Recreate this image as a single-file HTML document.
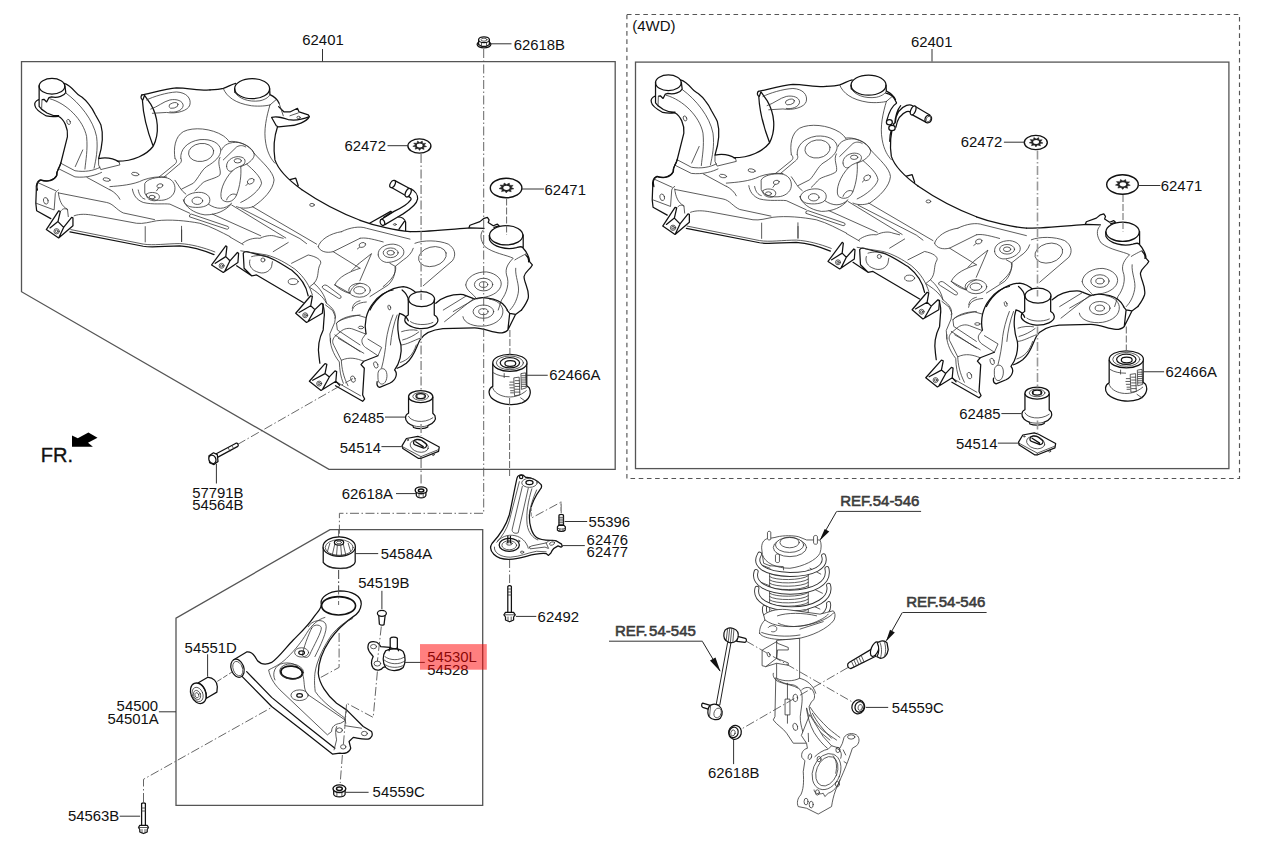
<!DOCTYPE html>
<html>
<head>
<meta charset="utf-8">
<title>Front Suspension Crossmember</title>
<style>
html,body{margin:0;padding:0;background:#fff;}
body{width:1261px;height:845px;overflow:hidden;font-family:"Liberation Sans",sans-serif;}
svg{display:block;}
text{font-family:"Liberation Sans",sans-serif;font-size:14.9px;fill:#111;}
.b{font-weight:normal;fill:#3c3c3c;stroke:#3c3c3c;stroke-width:0.6;font-size:15px;}
.k{fill:none;stroke:#111;stroke-width:1.25;stroke-linecap:round;stroke-linejoin:round;vector-effect:non-scaling-stroke;}
.t{fill:none;stroke:#333;stroke-width:0.8;stroke-linecap:round;stroke-linejoin:round;vector-effect:non-scaling-stroke;}
.w{fill:#fff;}
.box{fill:none;stroke:#555;stroke-width:1.3;}
.ld{fill:none;stroke:#333;stroke-width:1;}
.dd{fill:none;stroke:#444;stroke-width:0.9;stroke-dasharray:9 2.5 1.5 2.5;}
.dash{fill:none;stroke:#555;stroke-width:1.15;stroke-dasharray:4.6 3.6;}
</style>
</head>
<body>
<svg width="1261" height="845" viewBox="0 0 1261 845">
<rect width="1261" height="845" fill="#fff"/>

<!-- BOXES -->
<path class="box" d="M21.5 291.7V61.6H615.2V469.4H329Z"/>
<path class="box" d="M176 805.3V618.2L330 529.6H482.7V805.3Z"/>
<rect class="dash" x="626.9" y="14.5" width="612.6" height="464"/>
<rect class="box" x="635.5" y="62.1" width="593.4" height="406.5"/>

<!-- HIGHLIGHT -->


<!-- LABELS -->
<g id="labels">
<text x="302.3" y="44.7">62401</text>
<text x="513.7" y="49.9">62618B</text>
<text x="344.5" y="150.7">62472</text>
<text x="544.5" y="195">62471</text>
<text x="549.2" y="380.4">62466A</text>
<text x="342.9" y="422.7">62485</text>
<text x="339.7" y="452.9">54514</text>
<text x="341.7" y="499.1">62618A</text>
<text x="192.2" y="497.5">57791B</text>
<text x="192.2" y="510">54564B</text>
<text x="40.8" y="462.3" style="font-size:20px;stroke:#111;stroke-width:0.35">FR.</text>
<text x="380.8" y="558.8">54584A</text>
<text x="358.2" y="588.4">54519B</text>
<text x="184.6" y="652.9">54551D</text>
<text x="427.2" y="661.9" >54530L</text>
<text x="427.2" y="675.4">54528</text>
<text x="116.6" y="711.4">54500</text>
<text x="107.4" y="724.3">54501A</text>
<text x="372.6" y="796.8">54559C</text>
<text x="67.9" y="820.8">54563B</text>
<text x="588.6" y="526.9">55396</text>
<text x="586.6" y="544.8">62476</text>
<text x="586.6" y="557.3">62477</text>
<text x="537.6" y="621.9">62492</text>
<text x="632.2" y="31.4" style="font-size:15px">(4WD)</text>
<text x="911" y="46.5">62401</text>
<text x="960.8" y="146.7">62472</text>
<text x="1160.8" y="191">62471</text>
<text x="1165.5" y="377.4">62466A</text>
<text x="959.2" y="418.7">62485</text>
<text x="956" y="448.9">54514</text>
<text class="b" x="840.2" y="505.8">REF.54-546</text>
<text class="b" x="906.2" y="607.1">REF.54-546</text>
<text class="b" x="614.9" y="635.7">REF.<tspan dx="1.7">54-545</tspan></text>
<text x="891.7" y="713.2">54559C</text>
<text x="708" y="778.3">62618B</text>
</g>

<!-- LEADERS -->
<g id="leaders" class="ld">
<path d="M322.5 49V61.5"/>
<path d="M932 49V61.5"/>
<path d="M837.2 511.4H921.1"/>
<path d="M902.7 612.5H986.6"/>
<path d="M609 641.2H702.4"/>
</g>

<defs><g id="sf">
<g transform="translate(0,50) scale(0.16653)">
<ellipse class="k" cx="312" cy="218" rx="77" ry="47"/>
<path class="k" d="M235,214 L235,339 L249,355 L282,378 C310,392 335,396 352,394 M235,296 C215,305 205,320 210,335 C212,350 230,370 278,396 C300,400 330,400 350,398 M254,298 L264,296 L280,312 L294,286 L309,282 M390,215 L395,255 C385,275 350,290 309,282"/>
<path class="t" d="M252,300 L250,351"/>
<path class="k" d="M385,200 C405,205 430,225 454,253 C470,272 480,275 493,284 C510,298 522,310 532,323 C550,345 562,365 571,386 C590,420 600,435 606,450 C620,500 618,570 592,652 C630,645 680,650 715,672"/>
<path class="t" d="M715,672 L720,690 L605,718 L592,690 L592,652"/>
<path class="k" d="M705,668 C800,668 880,630 920,578 C960,500 950,400 905,325 L868,272 M852,270 C843,280 846,295 858,300 L868,272 M855,300 C860,400 890,500 920,578"/>
<path class="k" d="M852,270 C920,255 1000,232 1060,228 C1130,228 1200,245 1261,240"/>
<path class="k" d="M350,398 C385,415 410,470 405,520 L365,680 C355,715 335,730 340,755 C325,785 285,795 245,780 C225,790 218,815 225,841"/>
<path class="t" d="M395,258 C480,320 560,420 580,520 C590,600 575,660 565,710 M300,293 C400,320 500,420 520,520 C528,600 515,660 510,715 M497,600 L452,700"/>
<ellipse class="t" cx="412" cy="432" rx="10" ry="16" transform="rotate(-20 412 432)"/>
<path class="t" d="M365,680 L450,725 C510,735 560,725 600,705 M350,712 L450,762 C520,770 580,750 610,735 M522,765 L660,840"/>
<ellipse class="t" cx="640" cy="778" rx="22" ry="10" transform="rotate(10 640 778)"/>
<ellipse class="t" cx="812" cy="745" rx="22" ry="10" transform="rotate(10 812 745)"/>
<path class="t" d="M880,300 C920,280 1000,255 1060,252 C1120,255 1150,290 1140,330 C1130,365 1060,385 1000,375 L915,380 M905,355 C950,340 980,310 1020,300 C1060,292 1100,305 1100,335 C1095,365 1050,378 1020,372"/>
<ellipse class="t" cx="1042" cy="333" rx="28" ry="16" transform="rotate(-15 1042 333)"/>
</g>

<g transform="translate(210,50) scale(0.16653)">
<ellipse class="k" cx="253" cy="232" rx="105" ry="60"/>
<path class="k" d="M148,232 L150,255 M358,232 L360,268 M0,240 C30,238 60,235 80,230 C110,220 130,205 155,200 M360,268 C385,280 405,295 415,320"/>
<path class="k" d="M405,462 C385,520 380,590 390,660 C410,720 470,780 550,838 M480,778 L515,770 L530,815"/>
<path class="t" d="M80,232 C100,280 150,320 250,335 C300,340 340,335 360,330 M150,255 C170,290 230,315 300,305 C340,295 355,280 360,268 M360,330 C340,400 320,480 335,560 C345,620 370,660 390,680 M360,330 L395,300"/>
</g>

<g transform="translate(20,150) scale(0.16653)">
<path class="k" d="M245,78 C240,105 218,120 222,150 C210,175 170,195 120,180 C100,190 95,215 98,240 L95,320 L100,365 L185,412"/>
<path class="k" d="M158,478 L232,365 L242,368 L228,430 L262,465 L310,405 L318,408 L318,455 L232,528 Z M180,468 L228,430 M262,465 L235,522"/>
<circle class="t" cx="220" cy="488" r="16"/><circle class="t" cx="220" cy="488" r="8"/>
<path class="k" d="M300,492 L740,578 C800,588 880,575 960,575 C1030,580 1100,600 1165,628"/>
<path class="t" d="M540,238 C570,255 590,275 600,296 M105,195 L215,245 M98,320 L205,360 L212,262 C215,250 222,245 230,240 M230,255 C235,300 250,340 285,355 L290,400 M250,362 C255,350 275,350 285,358 M232,258 L520,315 C560,322 580,360 620,378 L808,418 M325,395 C360,382 400,385 440,392 L700,440 C740,445 780,432 820,425 C900,415 1000,425 1080,440 C1150,460 1210,495 1261,520 M752,460 V552 M970,458 V550 M305,478 L740,565 C800,575 880,562 960,562 C1030,566 1100,585 1170,612"/>
<ellipse class="t" cx="155" cy="305" rx="14" ry="20" transform="rotate(-15 155 305)"/>
<path class="t" d="M750,200 C760,175 820,160 870,165 C910,170 935,200 930,240 C925,275 890,300 850,302 C800,305 760,290 750,260 Z M760,265 C770,255 800,250 825,262 C845,275 840,300 810,305 C780,305 755,290 760,265 M540,220 C600,215 680,210 740,180 C780,165 830,158 880,162 M675,235 C680,270 700,300 740,315 C800,330 860,320 900,325 L1020,380 M710,240 C715,270 730,290 750,295 M832,228 L820,245"/>
<ellipse class="t" cx="840" cy="215" rx="18" ry="12" transform="rotate(-15 840 215)"/>
<ellipse class="t" cx="793" cy="283" rx="18" ry="11"/>
<ellipse class="t" cx="1065" cy="305" rx="32" ry="22"/>
<path class="t" d="M985,300 C990,270 1040,250 1090,255 C1130,262 1150,290 1135,320 C1120,345 1060,350 1020,340 C995,330 983,315 985,300 M1020,390 L1030,385 L1250,460 C1258,468 1250,478 1240,475 L1020,402 Z"/>
</g>

<g transform="translate(150,100) scale(0.16653)">
<path class="t" d="M150,350 C140,290 150,220 200,190 C260,160 370,170 440,215 C460,230 470,240 475,250 M150,350 C165,365 160,375 150,385 L55,462 M185,350 C180,300 220,250 300,238 C370,232 420,260 425,300 C425,340 390,370 340,400 C310,420 290,470 260,500 L190,535 M185,350 C195,365 185,380 170,390 L85,462 M420,345 C400,380 430,420 420,450 C400,470 340,480 320,495 C300,510 290,530 270,545"/>
<ellipse class="t" cx="307" cy="315" rx="76" ry="54" transform="rotate(-8 307 315)"/>
<path class="t" d="M430,300 C440,270 480,250 530,255 C570,262 610,285 625,320 C630,345 610,365 580,385 L545,400 M475,250 C520,240 600,270 625,320 M440,360 L520,282 C540,270 560,272 575,282"/>
<path class="t" d="M460,400 C455,370 490,340 530,340 C565,342 580,360 565,385 C550,400 520,400 495,425 C475,435 462,420 460,400 M545,400 C550,450 540,520 520,570 C500,620 450,620 430,595 C415,560 440,480 495,425 M520,570 C500,555 470,570 460,600"/>
<ellipse class="t" cx="527" cy="365" rx="22" ry="13"/>
<path class="t" d="M625,320 C680,380 740,430 745,480 C740,540 680,600 620,640 C580,655 540,650 520,640 M580,385 C620,420 665,460 670,500 C660,540 600,590 545,615 M590,500 L576,514"/>
<ellipse class="t" cx="605" cy="488" rx="22" ry="15" transform="rotate(-30 605 488)"/>
<path class="t" d="M150,482 C175,515 185,545 215,565 M350,625 C400,660 450,660 490,620 M200,600 C210,640 260,680 330,690 C400,690 450,665 485,628"/>
<path class="k" d="M910,538 C1000,600 1120,670 1261,722"/>
<ellipse class="t" cx="973" cy="630" rx="14" ry="9"/>
</g>

<g transform="translate(150,230) scale(0.16653)">
<path class="k" d="M370,210 L455,95 L462,100 L455,160 L480,185 L525,135 L532,140 L528,195 L440,255 Z M392,200 L455,160 M480,185 L448,250"/>
<circle class="t" cx="430" cy="215" r="15"/><circle class="t" cx="430" cy="215" r="7"/>
<path class="k" d="M520,215 L610,275 L640,270 L920,435 M560,140 C565,130 580,128 600,135 L700,160 C740,170 800,210 850,240 C900,280 940,340 950,395 M560,140 L565,230 L610,275"/>
<path class="t" d="M545,125 L700,150 C760,165 820,200 870,235 C930,285 960,340 975,390"/>
<path class="k" d="M875,500 L965,395 L975,398 L965,455 L990,478 L1030,440 L1040,445 L1035,500 L940,555 Z M895,495 L965,455 M990,478 L950,548"/>
<circle class="t" cx="932" cy="512" r="15"/><circle class="t" cx="932" cy="512" r="7"/>
<path class="k" d="M1037,445 C1045,470 1050,500 1045,530 L1040,600 C1020,640 1005,700 1015,760 L1020,800"/>
<path class="t" d="M190,0 V70 M480,42 L560,88 M555,80 C580,60 620,45 660,50 C700,30 740,30 760,40 L800,50 M740,130 L830,75 M850,200 L950,150 C1000,160 1030,180 1025,200 C1000,240 1020,280 985,320 L960,340 M600,180 C590,210 610,240 640,250 C680,270 720,250 730,220 L735,190 M610,160 C640,150 690,150 720,165"/>
<circle class="t" cx="678" cy="180" r="12"/>
<ellipse class="t" cx="860" cy="310" rx="30" ry="18"/>
<path class="t" d="M1035,340 C1040,328 1055,328 1065,335 L1145,395 C1152,405 1145,415 1132,410 L1045,355 C1035,350 1033,345 1035,340 M1010,100 C1020,60 1080,20 1150,10 M1010,100 C1020,130 1060,140 1100,130 L1261,50 M1100,130 L1261,230 M1110,330 C1130,280 1200,250 1261,230 M1110,330 L1200,380 M1200,380 C1210,340 1240,325 1261,320 M1215,470 C1220,440 1240,430 1261,425 M1120,560 C1130,540 1200,520 1261,510 M1120,560 L1125,600 L1261,690 M1110,630 L1261,730 M960,345 C1000,370 1040,400 1060,440 C1100,470 1120,500 1110,530 M985,320 C1020,350 1050,390 1060,440"/>
<path class="t" d="M1054,450 L1097,484 L1114,522 L1109,556 L1080,624 L1084,676"/>
</g>

<g transform="translate(200,180) scale(0.16653)">
<path class="t" d="M75,205 L365,335 M190,150 L515,348 M250,172 L600,352 L640,382 M315,160 L700,385"/>
<path class="t" d="M850,310 C900,285 960,275 1000,290 L1261,355 M961,350 C990,345 1020,350 1100,372 M950,505 L1030,442 L960,605 M960,402 L945,414"/>
<ellipse class="t" cx="975" cy="390" rx="20" ry="14" transform="rotate(-20 975 390)"/>
<ellipse class="t" cx="1145" cy="437" rx="22" ry="14"/><ellipse class="t" cx="1145" cy="437" rx="45" ry="29"/>
<path class="t" d="M1070,450 C1065,410 1110,385 1160,385 C1210,390 1235,420 1220,450 C1200,480 1160,495 1120,495 C1090,490 1072,470 1070,450 M1140,500 L1175,520 C1180,560 1150,600 1100,640"/>
<ellipse class="t" cx="958" cy="662" rx="35" ry="22"/><ellipse class="t" cx="958" cy="662" rx="65" ry="42"/>
<path class="t" d="M810,630 C830,650 860,670 895,680 M910,545 L950,505"/>
<path class="k" d="M961,242 C1050,275 1180,305 1261,310"/>
</g>

<g transform="translate(360,170) scale(0.16653)">
<path class="k" d="M301,370 C400,372 560,355 660,348 L745,350"/>
<ellipse class="k" cx="878" cy="392" rx="100" ry="58"/>
<path class="k" d="M980,390 V470 M776,392 L778,420 C800,462 880,482 940,466 C960,460 972,455 980,470 C1000,490 1020,530 1018,550 L1035,570 C1020,600 990,610 985,640 C985,680 1020,720 1010,770 C1000,800 985,820 970,841 M995,510 C1010,525 1015,540 1012,552"/>
<path class="k" d="M655,345 L660,332 L720,310 L745,290 L765,285 L775,300 L770,315 L800,335 L825,325 L835,335 L805,345"/>
<path class="t" d="M740,360 C720,380 720,420 750,460 C800,500 880,510 920,530 C890,560 870,590 880,630 C900,680 880,740 850,780 L830,841 M930,540 C960,520 990,510 1000,500 M935,590 C930,640 960,690 950,740 C940,790 920,820 900,841"/>
<ellipse class="t" cx="742" cy="688" rx="25" ry="17"/><ellipse class="t" cx="742" cy="688" rx="55" ry="38"/>
<path class="t" d="M635,690 C640,640 700,610 760,612 C820,620 860,660 845,700 C830,740 780,760 740,765 L700,775 C680,740 640,730 635,690"/>
<ellipse class="t" cx="435" cy="520" rx="85" ry="58" transform="rotate(-15 435 520)"/>
<path class="t" d="M330,440 C380,420 470,420 530,445 C570,470 580,510 555,545 L380,695 M320,470 C310,500 290,520 260,540 L210,580 C215,620 200,660 170,690 L60,760"/>
<path class="k" d="M60,841 C100,760 180,705 260,700 C300,705 320,720 340,740 M455,800 C500,760 560,745 620,748 L690,775 C720,760 760,765 800,775 C840,785 870,810 885,841"/>
<path class="t" d="M690,775 L560,850"/>
<ellipse class="k w" cx="370" cy="776" rx="78" ry="45"/>
<path class="t" d="M640,755 L500,841"/>
</g>

<g transform="translate(299.7,290) scale(0.16653)">
<path class="k" d="M652,58 V150 M808,58 V150 M632,175 C625,195 660,225 720,232 C780,235 830,210 830,180 C828,165 818,155 808,150 M652,150 C640,155 632,165 632,175"/>
<path class="k" d="M398,262 C385,200 400,130 440,80 C470,35 520,5 560,0 M615,0 C640,20 650,40 652,60"/>
<path class="k" d="M600,140 C580,200 590,280 608,330 C615,380 600,440 570,480 C590,500 580,540 540,560 L480,585 C465,580 462,565 465,550 M600,140 C625,148 645,165 652,185"/>
<path class="t" d="M470,500 C472,475 495,465 512,478 C530,495 528,545 505,562 C485,572 470,555 470,530 Z"/>
<path class="t" d="M398,262 L378,290 C368,305 375,330 395,345 L470,395 L492,345 L410,295"/>
<path class="k" d="M470,395 L385,428 L368,448 L388,470 L378,630 L390,655 L378,668 L215,575"/>
<path class="t" d="M365,635 L225,555 M215,275 L245,250 C265,232 295,225 320,235 L398,265 M215,275 C198,290 192,312 205,332 L250,422 C300,400 340,410 385,428 M232,290 L385,380 M185,290 C178,320 200,385 238,432 C240,480 245,520 262,560 M250,422 C252,470 262,520 290,575"/>
<path class="k" d="M58,548 L152,442 L163,446 L152,502 L178,522 L212,486 L222,490 L217,548 L128,603 Z M78,542 L152,502 M178,522 L138,595 M217,548 L240,572"/>
<circle class="t" cx="117" cy="562" r="15"/><circle class="t" cx="117" cy="562" r="7"/>
<path class="k" d="M1245,121 L1261,140 L1250,240 M1332,120 L1296,147 L1261,140 M1296,147 L1250,240 M722,300 C745,262 800,238 860,232 L1050,228 C1100,228 1150,252 1200,258 C1225,258 1240,250 1250,240 M722,300 C700,340 690,400 640,440 C620,455 600,465 585,470"/>
<path class="t" d="M1045,52 L870,190 M700,330 C680,390 650,420 605,435 M612,250 C640,240 680,236 705,242 M618,300 C650,292 690,272 715,252 M608,330 C640,330 690,300 722,290 M560,150 C540,200 525,260 520,300 C515,360 505,420 492,468 M585,150 C565,200 550,270 545,330"/>
<ellipse class="t" cx="320" cy="535" rx="13" ry="20" transform="rotate(-20 320 535)"/>
<ellipse class="t" cx="457" cy="450" rx="12" ry="20" transform="rotate(-20 457 450)"/>
<ellipse class="t" cx="538" cy="105" rx="8" ry="15" transform="rotate(-15 538 105)"/>
<ellipse class="t" cx="368" cy="225" rx="16" ry="8"/>
<ellipse class="t" cx="1103" cy="130" rx="28" ry="18"/><ellipse class="t" cx="1103" cy="130" rx="62" ry="40"/>
<path class="t" d="M980,160 C985,200 1050,225 1120,215 C1180,205 1225,170 1220,120 C1215,85 1180,60 1140,55 M315,125 C320,95 350,75 400,72 M225,195 C250,170 300,152 350,152 L395,165 M665,190 C690,210 760,215 800,195"/>
</g>

<g transform="translate(385,345) scale(0.14274)">
<path class="k w" d="M165,365 V478 C140,488 135,520 160,545 C175,558 185,562 195,565 L200,578 C230,590 280,588 300,575 L300,565 C345,550 360,520 350,495 L335,478 V365 Z"/>
<ellipse class="k w" cx="250" cy="362" rx="85" ry="42"/>
<ellipse class="t" cx="250" cy="360" rx="55" ry="27"/><ellipse class="k" cx="250" cy="358" rx="33" ry="18"/>
<path class="t" d="M165,500 C180,535 270,555 335,510 M195,565 C230,575 270,575 300,565 M225,345 V372 M275,345 V372"/>
<path class="ld" d="M0,505 H140" style="vector-effect:non-scaling-stroke"/>
<path class="k w" d="M120,705 L150,655 L230,640 L260,650 L380,715 L375,745 L250,795 L235,795 L125,725 Z"/>
<path class="t" d="M125,725 L122,712 M250,795 L252,782 L375,733 M252,782 L122,712"/>
<ellipse class="t" cx="240" cy="708" rx="65" ry="42" transform="rotate(15 240 708)"/>
<path class="k" d="M200,680 C205,660 235,655 255,668 L290,695 C295,710 285,722 270,722 L225,705 C205,700 198,692 200,680 Z M215,678 L268,712"/>
<circle class="t" cx="338" cy="768" r="7"/><circle class="t" cx="160" cy="665" r="5"/>
<path class="ld" d="M-25,712 H118" style="vector-effect:non-scaling-stroke"/>
<path class="k w" d="M755,130 V290 C725,305 720,340 745,370 C790,415 890,430 960,405 C1010,385 1030,340 1010,300 L993,285 V130 Z"/>
<ellipse class="k w" cx="875" cy="125" rx="120" ry="60"/>
<ellipse class="t" cx="875" cy="125" rx="95" ry="48"/><ellipse class="k" cx="875" cy="125" rx="68" ry="36"/><ellipse class="k" cx="878" cy="130" rx="38" ry="20"/>
<path class="t" d="M755,300 C770,360 900,400 990,320 M760,195 C790,215 830,222 870,222 M835,200 V228 M950,370 L985,395"/>
<path class="t" d="M905,230 L940,225 L945,350 L910,355 Z M912,250 H940 M912,270 H942 M912,290 H942 M912,310 H944 M912,330 H944 M955,200 L985,195 L990,300 L958,310 Z M958,215 H986 M958,230 H986 M958,245 H987 M958,260 H987 M958,275 H988 M958,290 H988 M875,260 H900 M872,280 H900 M875,300 H900 M880,320 H900 M880,335 H900"/>
<path class="ld" d="M995,212 H1140" style="vector-effect:non-scaling-stroke"/>
</g>

<g>
<ellipse class="k w" cx="419.4" cy="146" rx="11.5" ry="7.1" style="stroke-width:1.4"/>
<polygon points="426.6,146.6 423.5,147.2 424.1,149.4 421.1,148.4 419.5,150.4 418.1,148.4 415.1,149.2 415.8,147.0 412.8,146.3 415.4,145.0 413.7,143.1 417.0,143.3 417.5,141.0 419.8,142.6 422.3,141.1 422.6,143.4 425.8,143.3 424.1,145.2" fill="#222" stroke="#222" stroke-width="0.5" stroke-linejoin="round"/>
<ellipse cx="419.7" cy="145.5" rx="2.9" ry="1.9" fill="#fff"/>
<path class="ld" d="M387.5 145.7H408"/>
<ellipse class="k w" cx="506.1" cy="188" rx="15.8" ry="9.75" style="stroke-width:1.4"/>
<polygon points="513.9,188.8 510.6,189.5 511.2,191.8 508.0,190.9 506.3,192.9 504.7,190.9 501.5,191.6 502.3,189.4 499.0,188.6 501.8,187.1 500.0,185.1 503.5,185.2 504.1,183.0 506.6,184.5 509.3,183.1 509.7,185.3 513.2,185.4 511.2,187.3" fill="#222" stroke="#222" stroke-width="0.5" stroke-linejoin="round"/>
<ellipse cx="506.5" cy="187.8" rx="3.2" ry="2.1" fill="#fff"/>
<path class="ld" d="M522 189H544"/>
<path d="M506.6 198.5V235" fill="none" stroke="#666" stroke-width="1" stroke-dasharray="7 2"/>
<path d="M509.9 330V357" fill="none" stroke="#666" stroke-width="1" stroke-dasharray="7 2"/>
</g>

</g></defs>
<use href="#sf"/>
<g transform="translate(370,165) scale(0.082843)">
<path class="k w" d="M295,185 L490,290 L440,375 L265,275 Z"/>
<ellipse class="k w" cx="273" cy="230" rx="28" ry="48" transform="rotate(28 273 230)"/>
<path class="k w" d="M490,285 C540,310 580,360 575,410 C565,470 480,540 400,590 L340,625 L180,720 L130,660 L290,560 C380,520 450,480 490,425 C500,410 500,395 470,385 Z"/>
<ellipse class="k w" cx="460" cy="335" rx="30" ry="55" transform="rotate(28 460 335)"/>
<ellipse class="k w" cx="150" cy="693" rx="26" ry="38" transform="rotate(-20 150 693)"/>
<path class="k" d="M0,700 L250,560 L265,570 L165,632 M340,625 C380,625 420,650 430,690 L430,790 M415,680 L350,775"/>
<ellipse class="t" cx="300" cy="718" rx="18" ry="10"/>
</g>
<g transform="translate(210,50) scale(0.16653)">
<path class="k" d="M412,340 L445,372 L480,372 L525,350 L535,372 L590,390 L597,400 C580,430 520,455 470,455 L412,462 L398,455 L370,405 C400,395 430,405 470,418 C510,425 560,415 597,400"/>
<ellipse class="t" cx="532" cy="405" rx="10" ry="7"/>
<path class="t" d="M415,320 L440,395 M480,395 L530,378"/>
</g>



<use href="#sf" x="616.4" y="-3.5"/>
<g transform="translate(840,70) scale(0.11895)">
<path class="k" d="M385,195 C420,200 455,225 475,275 M475,280 C440,300 410,360 392,430 M510,300 C485,330 465,400 460,450 M465,440 C470,380 500,320 560,298 C580,292 600,295 610,300 M470,480 C480,420 510,370 560,350 C575,345 585,348 595,355 M630,305 L755,378 M605,375 L725,440 M430,510 C420,540 418,570 418,600"/>
<ellipse class="k w" cx="415" cy="440" rx="25" ry="22"/><ellipse class="k w" cx="437" cy="487" rx="27" ry="22"/>
<ellipse class="k w" cx="615" cy="340" rx="20" ry="40" transform="rotate(25 615 340)"/>
<ellipse class="k w" cx="742" cy="412" rx="27" ry="33" transform="rotate(25 742 412)"/><ellipse class="t" cx="744" cy="413" rx="18" ry="24" transform="rotate(25 744 413)"/>
</g>



<g id="smallparts">
<!-- dash-dot lines -->
<path class="dd" d="M483.7 49V513.3H339.4V540" style="stroke:#555"/>
<path class="dd" d="M421.1 154V300 M421.1 330V391 M421.1 424V436 M421.1 459V486" style="stroke:#999;stroke-width:1.6"/>
<path class="dd" d="M1037.5 150.5V296.5 M1037.5 326.5V387.5 M1037.5 420.5V432.5" style="stroke:#999;stroke-width:1.6"/>
<path class="dd" d="M237.5 444.5L353 378.5" style="stroke:#444;stroke-width:0.8"/>
<path d="M509.6 398V476" fill="none" stroke="#666" stroke-width="1" stroke-dasharray="7 2"/>
<path class="dd" d="M509.6 559V583" style="stroke:#555"/>
<path class="dd" d="M561.2 513V502L531.5 518" style="stroke:#555"/>
<!-- 62618B nut -->
<g>
<ellipse class="k w" cx="484" cy="44.3" rx="6.9" ry="3.6"/>
<path class="k w" d="M478.6 39.7V44.5L481.5 46.3H486.5L489.4 44.5V39.7Z"/>
<path class="t" d="M481.5 42V46.3M486.5 42V46.3"/>
<ellipse class="k w" cx="484" cy="39.7" rx="5.4" ry="2.9"/>
<ellipse class="t" cx="484" cy="39.7" rx="3" ry="1.5"/>
<path class="ld" d="M491 43.8H511.5"/>
</g>
<!-- 62618A nut -->
<g>
<path class="k w" d="M416.3 491.3 V495.4 C417.5 498.8 424.7 498.8 425.9 495.4 V491.3 Z"/>
<path class="t" d="M419.0 493.7 V497.3 M423.2 493.7 V497.3"/>
<ellipse class="k w" cx="421.1" cy="490.3" rx="5.9" ry="3.4" style="stroke-width:1.4"/>
<ellipse class="k" cx="421.1" cy="490.4" rx="2.7" ry="1.5" style="stroke-width:1.5"/>
</g>
<path class="ld" d="M396 493.6H416"/>
<!-- bolt 57791B -->
<g>
<path class="k w" d="M215.3 454.2L236 443.2C237.6 442.6 239 445.2 237.8 446.4L217 457.6Z"/>
<path class="t" d="M228 447.6L230 451 M232.5 446.5L233.6 448.6"/>
<path class="k w" d="M209 455.8L213.5 452.8L217.3 454.6L218 461.5L214 464.6L209.6 462.6Z"/>
<ellipse class="k w" cx="212.4" cy="459.3" rx="3.4" ry="4.4" transform="rotate(-25 212.4 459.3)"/>
<path class="ld" d="M216.4 464V483.5"/>
</g>
<!-- FR arrow -->
<polygon points="72,435.5 77.8,438.2 88.4,432.4 97.5,437.7 88,442.8 92.9,446.8 72,446.8" fill="#000"/>
</g>



<g id="arm">
<!-- dash-dot lines (native) -->
<path class="dd" d="M338.6 530V541 M338.6 570V605" style="stroke:#555"/>
<path class="dd" d="M339.1 633V667.4L320.8 677.4" style="stroke:#555"/>
<path class="dd" d="M143.5 802V779.3L271.5 707.5" style="stroke:#555"/>
<path class="dd" d="M217.3 681.4L236 669.5" style="stroke:#555;stroke-dasharray:5 2"/>
<g transform="translate(230,560) scale(0.16653)">
<path class="k w" d="M548,265 C540,225 590,188 660,185 C730,185 790,215 788,265 C785,300 765,325 740,340 C690,375 640,420 600,480 C560,540 530,610 530,680 C535,740 580,810 640,860 L700,900 L800,1000 L850,1030 C860,1050 850,1070 830,1075 C800,1080 770,1070 740,1065 L715,1090 L725,1130 C720,1155 690,1165 660,1160 L615,1165 L430,1020 L250,880 L75,702 L20,600 L100,552 C120,550 140,565 150,580 L165,605 C190,630 220,630 250,615 C290,590 340,520 380,480 C420,440 465,400 505,340 C525,310 550,295 548,265 Z"/>
<path class="k" d="M100,670 L250,825 L440,980 L630,1130"/>
<ellipse class="k w" cx="45" cy="650" rx="38" ry="56" transform="rotate(-20 45 650)"/>
<ellipse class="t" cx="47" cy="652" rx="28" ry="45" transform="rotate(-20 47 652)"/>
<ellipse class="k" cx="652" cy="275" rx="102" ry="55" style="stroke-width:1.6"/>
<path class="t" d="M570,345 C530,355 490,390 460,440 C430,490 400,530 340,590 C300,630 250,650 232,660 C240,700 260,740 300,780 L585,1050 L610,1030 C610,1000 630,985 665,980 L690,965 L690,950 C640,910 560,860 512,790 C505,740 508,700 510,680 C520,600 570,510 610,450 C650,400 690,372 735,352"/>
<path class="t" d="M270,720 C250,680 270,630 320,620 C380,610 430,640 440,700 C450,750 440,780 470,810 L690,960"/>
<path class="t" d="M490,410 C500,385 540,385 548,405 C555,425 500,520 478,570 C470,590 440,590 435,570 C440,530 470,450 490,410 Z M470,400 C490,360 560,350 575,385 C590,420 540,520 510,580"/>
<ellipse class="k" cx="370" cy="675" rx="65" ry="38" transform="rotate(5 370 675)" style="stroke-width:1.8"/>
<ellipse class="t" cx="370" cy="670" rx="72" ry="46" transform="rotate(5 370 670)"/>
<ellipse class="k" cx="430" cy="557" rx="17" ry="11"/><ellipse class="t" cx="430" cy="555" rx="42" ry="28"/>
<ellipse class="k" cx="418" cy="813" rx="17" ry="11"/><ellipse class="t" cx="418" cy="812" rx="52" ry="32"/>
<ellipse class="t" cx="657" cy="1022" rx="18" ry="14"/><ellipse class="t" cx="807" cy="1042" rx="18" ry="13"/><ellipse class="t" cx="680" cy="1122" rx="16" ry="13"/>
<path class="t" d="M640,1000 C630,1020 635,1050 640,1080 L625,1140 M690,995 L790,1010 M700,900 C690,930 690,960 695,980"/>
<!-- ball joint -->
<path class="k w" d="M830,510 C835,485 880,485 895,505 L905,520 L960,525 L960,560 L935,640 L920,645 C910,660 880,670 860,650 C845,630 850,600 860,580 C850,565 830,550 828,525 Z"/>
<ellipse class="t" cx="862" cy="520" rx="18" ry="13"/><ellipse class="t" cx="885" cy="622" rx="20" ry="15"/>
<path class="k w" d="M935,545 C960,530 1020,530 1040,550 C1055,575 1055,620 1040,645 C1010,670 960,670 935,645 C915,620 915,570 935,545 Z"/>
<path class="t" d="M930,580 C960,605 1020,605 1050,580 M925,600 C960,630 1020,630 1052,605 M935,630 C960,650 1020,650 1045,630"/>
<path class="k w" d="M962,470 C970,460 995,460 1005,470 V528 C995,535 975,535 962,525 Z"/>
<path class="k" d="M955,545 L962,525 M1012,545 L1005,528"/>
<!-- pin -->
<path class="k w" d="M893,330 L897,385 C905,392 918,392 925,388 L932,330 Z"/>
<ellipse class="k w" cx="912" cy="320" rx="27" ry="18"/>
</g>
<path class="dd" d="M338.6 570V605" style="stroke:#555"/>
<path class="dd" d="M381.3 626.5L377.4 661.5 M377.4 671.5L373.2 717.4L346.6 703.2L344.9 726.5L343.2 746.5 M342.4 755L340.2 783" style="stroke:#555"/>
<path class="ld" d="M381.9 590.8V609 M404.8 662.4H424.8 M355.7 553.6H378.2 M207.6 654.3V676.6 M158.9 711.8H176 M345.5 792.3H368.6 M119.7 816.2H140.1"/>
<!-- bushing 54584A -->
<g transform="translate(180,525) scale(0.16653)">
<path class="k w" d="M860,135 V225 C880,255 940,265 1000,258 C1030,250 1050,235 1052,222 V135 Z"/>
<path class="t" d="M880,245 C900,265 1000,270 1030,250"/>
<ellipse class="k w" cx="956" cy="130" rx="97" ry="58"/>
<ellipse class="t" cx="956" cy="135" rx="84" ry="47"/>
<ellipse class="k" cx="955" cy="105" rx="28" ry="16"/><ellipse class="t" cx="955" cy="105" rx="15" ry="8"/>
<path class="t" d="M930,112 L915,178 M980,112 L995,178 M915,178 C935,188 975,188 995,178 M900,110 L885,160 M1010,110 L1025,160 M945,120 L940,182 M965,120 L970,182"/>
</g>
<!-- bushing 54551D -->
<g transform="translate(175,640) scale(0.095166)">
<path class="k w" d="M245,450 L345,392 C400,390 445,440 445,490 L440,548 L335,610 Z"/>
<ellipse class="k w" cx="245" cy="560" rx="78" ry="112" transform="rotate(-22 245 560)"/>
<ellipse class="t" cx="238" cy="572" rx="55" ry="78" transform="rotate(-22 238 572)"/>
<ellipse class="t" cx="232" cy="578" rx="36" ry="50" transform="rotate(-22 232 578)"/>
<ellipse class="t" cx="230" cy="580" rx="20" ry="28" transform="rotate(-22 230 580)"/>
<path class="k" d="M250,452 C300,470 335,540 330,612"/>
</g>
<!-- nut 54559C -->
<g>
<path class="k w" d="M333.7 789.7 V794.4 C334.9 797.8 343.9 797.8 345.1 794.4 V789.7 Z"/>
<path class="t" d="M336.9 792.5 V796.3 M341.9 792.5 V796.3"/>
<ellipse class="k w" cx="339.4" cy="788.7" rx="6.4" ry="3.8" style="stroke-width:1.4"/>
<ellipse class="k" cx="339.4" cy="788.8" rx="2.9" ry="1.7" style="stroke-width:1.5"/>
</g>
<!-- bolt 54563B -->
<g>
<path class="k w" d="M141.6 803.5C142.5 802.6 144.6 802.6 145.4 803.5V825.5H141.6Z"/>
<path class="t" d="M141.6 808H145.4 M141.6 811H145.4"/>
<path class="k w" d="M139.8 825.3H147.2L148.5 827.5L147.2 829.5V832L143.5 833.5L139.8 832V829.5L138.5 827.5Z"/>
<path class="t" d="M138.5 827.5H148.5 M142 829.5V833M145 829.5V833"/>
</g>
</g>



<g id="bracket">
<g transform="translate(470,465) scale(0.11895)">
<path class="k w" d="M395,110 C400,85 425,80 445,85 L470,105 C510,100 570,130 598,165 C605,180 600,195 590,205 C550,260 510,340 500,420 C495,500 520,580 560,610 C600,640 680,630 720,635 L770,665 L775,685 L765,690 L740,680 C720,690 700,700 690,720 L680,740 L660,760 L640,745 C560,735 480,770 400,785 C320,800 240,790 200,750 C170,720 165,690 185,660 C240,600 300,520 330,420 C350,340 370,220 395,110 Z"/>
<ellipse class="k" cx="500" cy="148" rx="30" ry="18"/><ellipse class="t" cx="500" cy="150" rx="65" ry="38"/>
<circle class="k" cx="430" cy="100" r="14"/>
<path class="t" d="M440,180 L355,540 C350,570 380,580 405,570 L490,195 M415,140 L330,470 C310,540 270,600 225,650 M520,200 C490,300 470,400 480,500 C490,570 530,615 570,630 M560,210 C530,280 505,350 498,420"/>
<ellipse class="k" cx="330" cy="672" rx="85" ry="55"/><ellipse class="t" cx="330" cy="675" rx="62" ry="38"/>
<ellipse class="t" cx="330" cy="660" rx="25" ry="14"/>
<path class="k" d="M318,600 V655 M340,600 V655"/>
<path class="t" d="M205,690 C200,740 260,775 340,775 C420,770 480,740 560,725 L640,730 M230,640 C280,590 340,580 400,600 C450,620 480,660 490,700 M500,690 L520,680 L640,655 L660,640 C680,630 710,632 725,640 M500,690 L505,705 L630,690 L655,700 M640,655 L660,700"/>
<circle class="t" cx="410" cy="640" r="8"/><ellipse class="t" cx="438" cy="733" rx="14" ry="9"/>
<ellipse class="t" cx="690" cy="660" rx="22" ry="13" transform="rotate(-20 690 660)"/>
<!-- bolt 55396 -->
<path class="k w" d="M748,425 C748,412 786,412 786,425 V510 H748 Z"/>
<path class="t" d="M748,440 H786 M748,455 H786 M748,470 H786 M748,485 H786 M748,500 H786"/>
<path class="k w" d="M735,520 L745,508 H790 L802,520 L800,548 C790,562 745,562 735,548 Z"/>
<path class="t" d="M735,530 C750,542 790,542 802,530 M755,540 V558 M782,540 V558"/>
</g>
<path class="ld" d="M564.6 521.5H587.2 M562.2 545.6H584.8 M515.9 616.4H536.3"/>
<path d="M561 501.5V511 M531.3 507V517.5" fill="none" stroke="#999" stroke-width="1.3" stroke-dasharray="4 1.5"/>
<!-- bolt 62492 -->
<g>
<path class="k w" d="M507.8 586.5C508.4 585.4 510.8 585.4 511.4 586.5V612.5H507.8Z"/>
<path class="t" d="M507.8 589H511.4 M507.8 592H511.4 M507.8 595H511.4"/>
<path class="k w" d="M505.5 612.3H513.6L515.2 614.8L513.6 617V620L509.6 621.8L505.5 620V617L504 614.8Z"/>
<path class="t" d="M504 614.8H515.2 M508 617V621M511.2 617V621"/>
</g>
</g>



<g id="strut">
<!-- arrows & leaders -->
<path class="ld" d="M836.6 511.4L820.5 539.5 M902.3 612.5L886.5 640.5 M702.4 641.4L720 671" style="stroke:#222"/>
<polygon points="819.6,540.8 824.7,529 829.3,531.6" fill="#111"/>
<polygon points="886,641.5 890,629.8 894.8,632.5" fill="#111"/>
<polygon points="720.5,671.8 710,660.5 715.5,657.5" fill="#111"/>
<path class="ld" d="M865.7 707.4H888.2 M733.6 738.6V764.1"/>
<!-- top mount + spring (ST1) -->
<g transform="translate(720,490) scale(0.16653)">
<!-- bellows -->
<path class="t" d="M298,480 V760 M530,480 V740 M298,500 C330,525 490,525 530,495 M298,520 C330,545 490,545 530,515 M298,540 C330,565 490,565 530,535 M298,560 C330,585 490,585 530,555 M298,580 C330,605 490,605 530,575 M298,600 C330,625 490,625 530,595 M298,620 C330,645 490,645 530,615 M298,640 C330,665 490,665 530,635 M298,660 C330,685 490,685 530,655 M298,680 C330,705 490,705 530,675 M300,700 C330,725 490,725 530,695 M305,720 C330,745 490,745 530,715 M310,740 C340,760 480,760 525,735"/>
<path class="t" d="M540,470 L605,505 M545,585 L615,620 M545,690 L600,715 M300,470 L235,445 M298,575 L235,550 M300,680 L262,665"/>
<!-- coils -->
<g fill="none" stroke-linecap="round" style="vector-effect:non-scaling-stroke">
<path d="M268,705 C255,765 330,802 450,802 C570,797 662,752 652,682" stroke="#333" stroke-width="4.9" vector-effect="non-scaling-stroke"/>
<path d="M268,705 C255,765 330,802 450,802 C570,797 662,752 652,682" stroke="#fff" stroke-width="3.1" vector-effect="non-scaling-stroke"/>
<path d="M222,590 C205,660 290,712 430,714 C570,712 672,652 652,572" stroke="#333" stroke-width="4.9" vector-effect="non-scaling-stroke"/>
<path d="M222,590 C205,660 290,712 430,714 C570,712 672,652 652,572" stroke="#fff" stroke-width="3.1" vector-effect="non-scaling-stroke"/>
<path d="M217,490 C195,560 280,612 420,614 C560,612 662,562 642,472" stroke="#333" stroke-width="4.9" vector-effect="non-scaling-stroke"/>
<path d="M217,490 C195,560 280,612 420,614 C560,612 662,562 642,472" stroke="#fff" stroke-width="3.1" vector-effect="non-scaling-stroke"/>
<path d="M238,385 C200,450 260,502 420,507 C560,507 645,462 622,395" stroke="#333" stroke-width="4.9" vector-effect="non-scaling-stroke"/>
<path d="M238,385 C200,450 260,502 420,507 C560,507 645,462 622,395" stroke="#fff" stroke-width="3.1" vector-effect="non-scaling-stroke"/>
</g>
<path class="t w" d="M250,345 C250,310 270,290 300,290 L330,285 C360,275 420,270 470,280 L520,300 L600,300 C610,320 610,350 600,380 C580,420 500,460 420,470 C340,470 270,440 255,390 Z"/>
<path class="t w" d="M285,255 C285,245 305,245 305,255 V295 C305,302 285,302 285,295 Z M562,280 C562,270 585,270 585,280 V320 C585,328 562,328 562,320 Z M333,390 C333,382 357,382 357,390 V430 C357,438 333,438 333,430 Z"/>
<ellipse class="t" cx="420" cy="345" rx="100" ry="55"/><ellipse class="t w" cx="418" cy="330" rx="85" ry="45"/><ellipse class="t" cx="418" cy="315" rx="58" ry="32"/>
<path class="t" d="M255,395 L262,440 L300,455 M300,455 L380,460 L382,480"/>
</g>
<!-- lower seat, tube, clamp, bolt (ST2) -->
<g transform="translate(720,600) scale(0.16653)">
<path class="t w" d="M238,200 C235,170 250,140 270,120 L262,90 C300,60 360,50 420,60 L600,85 L640,75 L680,65 C692,75 695,95 685,120 C650,170 550,220 450,235 C350,245 250,230 238,200 Z"/>
<path class="t" d="M270,120 C320,160 420,170 520,150 C600,135 660,105 685,75 M290,165 C300,150 330,150 340,165 C345,185 330,195 310,190 M350,140 C400,165 480,165 540,145 C600,125 640,100 650,85 M250,195 C300,215 400,225 480,210 M345,95 C400,75 500,75 580,95 M480,175 L620,130"/>
<path class="t w" d="M340,245 V470 C380,490 440,490 478,470 V232 Z"/>
<path class="t w" d="M255,300 L340,250 L345,260 L410,285 L410,300 L345,300 L340,350 L410,378 L410,392 L340,380 L275,400 L255,395 Z"/>
<path class="t" d="M340,250 L340,350 M275,400 L340,350"/>
<ellipse class="t" cx="292" cy="328" rx="8" ry="14" transform="rotate(-20 292 328)"/>
<path class="t w" d="M335,470 L330,700 L320,720 C340,750 380,770 400,800 L440,860 L520,860 C510,820 480,760 482,700 C485,660 500,600 490,560 C480,530 460,515 440,510 C400,505 360,495 335,470 Z"/>
<path class="t" d="M320,440 C315,460 330,480 350,490 C400,510 440,510 470,530 M478,470 C520,480 560,510 575,560 M490,540 C510,520 540,520 555,540 C575,570 570,600 550,610 L535,640 C540,700 580,760 640,800 L700,841 M520,650 C530,700 560,760 610,800 L660,841 M405,500 V740"/>
<ellipse class="t w" cx="452" cy="588" rx="14" ry="22"/><ellipse class="t w" cx="452" cy="762" rx="14" ry="22" transform="rotate(-15 452 762)"/>
<path class="t w" d="M393,595 H420 V690 H393 Z"/>
<!-- bolt -->
<path class="k w" d="M915,292 L775,375 C760,385 765,410 785,412 L935,338 Z"/>
<path class="t" d="M790,370 L805,402 M805,362 L820,395 M820,354 L835,388 M835,346 L850,380 M850,338 L865,372"/>
<ellipse class="k w" cx="930" cy="295" rx="22" ry="46" transform="rotate(22 930 295)"/>
<path class="k w" d="M945,258 C958,242 990,240 1003,258 L1010,298 C1006,330 985,352 962,350 L942,340 C955,320 958,285 945,258 Z"/>
<path class="t" d="M958,250 C972,275 975,320 962,350 M985,246 C998,275 998,320 985,345"/>
<!-- nut 54559C -->
<ellipse class="k w" cx="830" cy="642" rx="38" ry="42" transform="rotate(15 830 642)"/>
<ellipse class="k w" cx="838" cy="642" rx="27" ry="32" transform="rotate(15 838 642)"/>
<ellipse class="t" cx="842" cy="645" rx="13" ry="18" transform="rotate(15 842 645)"/>
<!-- nut 62618B -->
<ellipse class="k w" cx="90" cy="795" rx="38" ry="42" transform="rotate(15 90 795)"/>
<ellipse class="k w" cx="82" cy="795" rx="27" ry="32" transform="rotate(15 82 795)"/>
<ellipse class="t" cx="78" cy="798" rx="13" ry="18" transform="rotate(15 78 798)"/>
</g>
<!-- stab link (LK) -->
<g transform="translate(680,615) scale(0.14201)">
<path class="t w" d="M335,195 L255,630 L280,635 L358,200 Z" style="stroke:#222;stroke-width:1"/>
<path class="k w" d="M405,150 L460,165 C472,170 470,190 458,192 L400,185 Z"/>
<path class="k w" d="M310,125 C315,95 345,85 375,95 C405,105 415,130 408,160 C400,190 370,200 340,190 C312,180 305,155 310,125 Z"/>
<path class="t" d="M335,100 L325,180 M350,95 L340,188 M365,95 L355,192 M380,100 L372,192"/>
<path class="k w" d="M160,620 C150,625 150,645 160,650 L215,668 L225,640 Z"/>
<path class="k w" d="M200,655 C210,625 250,620 275,640 C300,660 305,700 285,725 C265,745 225,740 205,715 C195,700 195,675 200,655 Z"/>
<ellipse class="t" cx="265" cy="690" rx="25" ry="35" transform="rotate(20 265 690)"/>
<path class="t" d="M215,640 L208,715"/>
</g>
<!-- knuckle (ST3) -->
<g transform="translate(690,700) scale(0.16653)">
<path class="t w" d="M670,215 L700,260 L705,290 C680,295 665,320 672,345 L690,365 L680,430 C685,500 680,540 665,570 C645,590 640,620 650,640 L700,650 L770,685 L850,640 C855,610 860,580 875,540 C900,480 940,400 975,290 L1000,275 C1020,255 1020,225 1000,210 C975,195 940,200 925,225 L915,260 L900,290 L850,275 L800,220 L720,90 Z"/>
<ellipse class="t" cx="820" cy="430" rx="82" ry="112" transform="rotate(22 820 430)"/>
<ellipse class="t" cx="822" cy="428" rx="62" ry="92" transform="rotate(22 822 428)"/>
<path class="t" d="M750,340 C770,320 800,300 830,295 L850,275 M880,290 C905,300 915,320 905,350 M900,480 C890,520 860,550 830,560 L810,580 L800,560 C770,570 745,560 745,540 M860,335 C880,360 885,400 875,440"/>
<ellipse class="t" cx="775" cy="355" rx="12" ry="16"/><ellipse class="t" cx="888" cy="300" rx="12" ry="16"/><ellipse class="t" cx="885" cy="505" rx="12" ry="16"/><ellipse class="t" cx="765" cy="555" rx="12" ry="16"/>
<ellipse class="t" cx="968" cy="222" rx="22" ry="13"/>
<ellipse class="t" cx="720" cy="340" rx="10" ry="18" transform="rotate(15 720 340)"/>
<ellipse class="t" cx="697" cy="610" rx="12" ry="20"/><ellipse class="t" cx="728" cy="628" rx="12" ry="20"/>
<path class="t" d="M700,50 C705,100 720,150 745,195 C770,235 800,270 825,290 M720,42 C750,90 790,130 830,170 C860,195 880,210 900,225 M735,80 C760,130 800,180 850,230 M920,300 L935,330 M940,380 L925,370 M710,200 L712,250"/>
</g>
<!-- dash-dot -->
<path class="dd" d="M746 641L851.5 701.5 M848 667.5L741.5 729" style="stroke:#444;stroke-width:0.8"/>
</g>



<rect x="420" y="644.1" width="66.8" height="25.6" fill="rgba(255,0,0,0.5)"/>
</svg>
</body>
</html>
